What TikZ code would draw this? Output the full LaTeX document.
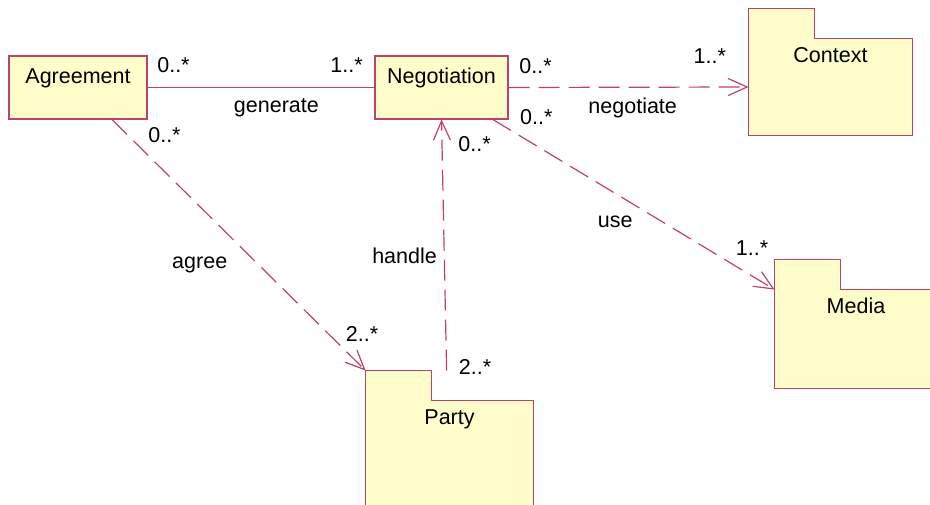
\documentclass[tikz,border=0pt]{standalone}
\usepackage{fontspec}
\setmainfont{Liberation Sans}
\usetikzlibrary{arrows.meta,calc}

\definecolor{umlline}{RGB}{192,64,104}
\definecolor{umlfill}{RGB}{255,253,201}

\begin{document}
\begin{tikzpicture}[
   x=0.5pt,y=0.5pt,
   font=\fontsize{10.75}{13}\selectfont,
   class/.style={draw=umlline,fill=umlfill,line width=0.6pt,inner sep=0pt,text height=13.65pt,text depth=17.85pt},
   package/.style={fill=umlfill,inner sep=0pt,text height=11.75pt},
   assoc/.style={draw=umlline,line width=0.6pt},
   dep/.style={assoc,dash pattern=on 10.5pt off 4.5pt,-{Straight Barb[length=9.5pt,width=8.5pt]}}]
\useasboundingbox (0,0) rectangle (930,504);

% classes and packages
\node[class,minimum width=69pt] (agr) at (78,416.5) {Agreement};
\node[class,minimum width=66.5pt] (neg) at (441.5,416.5) {Negotiation};
\node[package,minimum width=81.5pt,text depth=36.25pt] (ctx) at (830.5,417) {Context};
\node[package,minimum width=81pt,text depth=37.25pt] (med) at (856,165) {Media};
\node[package,minimum width=83.5pt,text depth=40.75pt] (pty) at (449.5,50.5) {Party};

% folder outline with tab
\foreach \p in {ctx,med,pty}{
  \fill[umlfill] (\p.north west) rectangle ++(66,30);
  \draw[assoc] (\p.south west) -- ($(\p.north west)+(0,30)$) -- ++(66,0) |- (\p.north east) -- (\p.south east) -- cycle;
}

% relations
\draw[assoc] (agr.east) --
   node[pos=0.114,yshift=11pt] (gen-a) {0..*}
   node[pos=0.877,yshift=11pt] (gen-b) {1..*}
   node[pos=0.568,yshift=-10.2pt] (gen-l) {generate} (neg.west);
\draw[dep] (neg.east) --
   node[pos=0.112,yshift=10.75pt] (ngt-a) {0..*}
   node[pos=0.838,yshift=15.25pt] (ngt-b) {1..*}
   node[pos=0.517,yshift=-10.35pt] (ngt-l) {negotiate} (ctx.west);
\draw[dep] ($(neg.south)+(51.5,0)$) --
   node[pos=0.154,yshift=14.45pt] (use-a) {0..*}
   node[pos=0.434,yshift=-14.1pt] (use-l) {use}
   node[pos=0.92,yshift=13.9pt] (use-b) {1..*} (med.north west);
\draw[dep] ($(agr.south)+(34,0)$) --
   node[pos=0.1,xshift=13.55pt,yshift=4.65pt] (agr-a) {0..*}
   node[pos=0.579,xshift=-29.55pt] (agr-l) {agree}
   node[pos=0.854,xshift=16.75pt] (agr-b) {2..*} ($(pty.north west)+(0,30)$);
\draw[dep] ($(pty.north west)+(81,30)$) --
   node[pos=0,xshift=14.25pt,yshift=1.75pt] (hdl-a) {2..*}
   node[pos=0.458,xshift=-19.85pt] (hdl-l) {handle}
   node[pos=0.903,xshift=16.25pt] (hdl-b) {0..*} (neg.south);
\end{tikzpicture}
\end{document}
